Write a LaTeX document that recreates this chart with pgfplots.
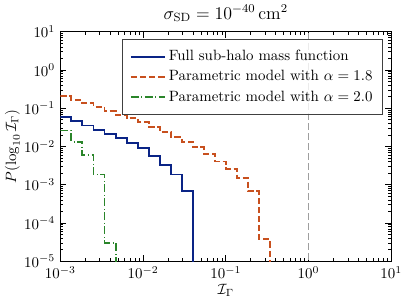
\documentclass[border=0pt]{standalone}
\usepackage{fontspec}
\usepackage{pgfplots}
\pgfplotsset{compat=1.18}
\definecolor{cblue}{HTML}{0A2486}
\definecolor{corange}{HTML}{C8501E}
\definecolor{cgreen}{HTML}{2A852A}
\begin{document}
\begin{tikzpicture}
\begin{axis}[
  scale only axis,
  width=222pt, height=154pt,
  xmode=log, ymode=log,
  xmin=1e-3, xmax=10, ymin=1e-5, ymax=10,
  xtick={1e-3,1e-2,1e-1,1,10},
  ytick={1e-5,1e-4,1e-3,1e-2,1e-1,1,10},
  tick align=inside,
  xtick pos=both, ytick pos=both,
  major tick length=4pt, minor tick length=2pt,
  every tick/.style={black, line width=0.5pt},
  axis line style={line width=0.8pt},
  title={$\sigma_{\rm SD} = 10^{-40}\,{\rm cm}^2$},
  title style={yshift=-3pt, font=\large},
  xlabel={$\mathcal{I}_\Gamma$},
  ylabel={$P(\log_{10}\mathcal{I}_\Gamma)$},
  xlabel style={yshift=3pt},
  ylabel style={yshift=-4pt},
  legend style={at={(1,1)}, anchor=north east, xshift=-5.3pt, yshift=-4.7pt,
    draw=black!75, line width=0.6pt, fill=white, fill opacity=0.8, text opacity=1,
    cells={anchor=west}, row sep=1pt, inner xsep=5pt, inner ysep=5.5pt},
  legend image code/.code={\draw[#1] (0cm,0cm) -- (0.8cm,0cm);},
]
\addplot[cblue, line width=1.3pt, const plot] coordinates {
(0.001,0.0603)(0.0013594,0.0479)(0.0018478,0.0355)(0.0025119,0.0269)
(0.0034145,0.0211)(0.0046416,0.0166)(0.0063096,0.0123)(0.0085770,0.00912)
(0.011659,0.00556)(0.015849,0.00339)(0.021544,0.00186)(0.029286,0.000708)
(0.039811,1e-8)};
\addlegendentry{Full sub-halo mass function}
\addplot[corange, line width=1.3pt, const plot, dash pattern=on 4.2pt off 1.9pt] coordinates {
(0.001,0.204)(0.0013594,0.166)(0.0018478,0.135)(0.0025119,0.110)
(0.0034145,0.0861)(0.0046416,0.0676)(0.0063096,0.0550)(0.0085770,0.0447)
(0.011659,0.0331)(0.015849,0.0245)(0.021544,0.0178)(0.029286,0.0135)
(0.039811,0.00955)(0.054117,0.00646)(0.073564,0.00407)(0.1,0.00263)
(0.13594,0.00151)(0.18478,0.000676)(0.25119,0.0000380)(0.34145,1e-8)};
\addlegendentry{Parametric model with $\alpha = 1.8$}
\addplot[cgreen, line width=1.3pt, const plot, dash pattern=on 5.3pt off 1.7pt on 0.7pt off 1.7pt] coordinates {
(0.001,0.0263)(0.0013594,0.0135)(0.0018478,0.00589)(0.0025119,0.00186)
(0.0034145,0.0000309)(0.0046416,1e-8)};
\addlegendentry{Parametric model with $\alpha = 2.0$}
\addplot[black!38, line width=1.3pt, dash pattern=on 4.7pt off 2pt, forget plot] coordinates {(1,1e-6)(1,100)};
\end{axis}
\end{tikzpicture}
\end{document}
